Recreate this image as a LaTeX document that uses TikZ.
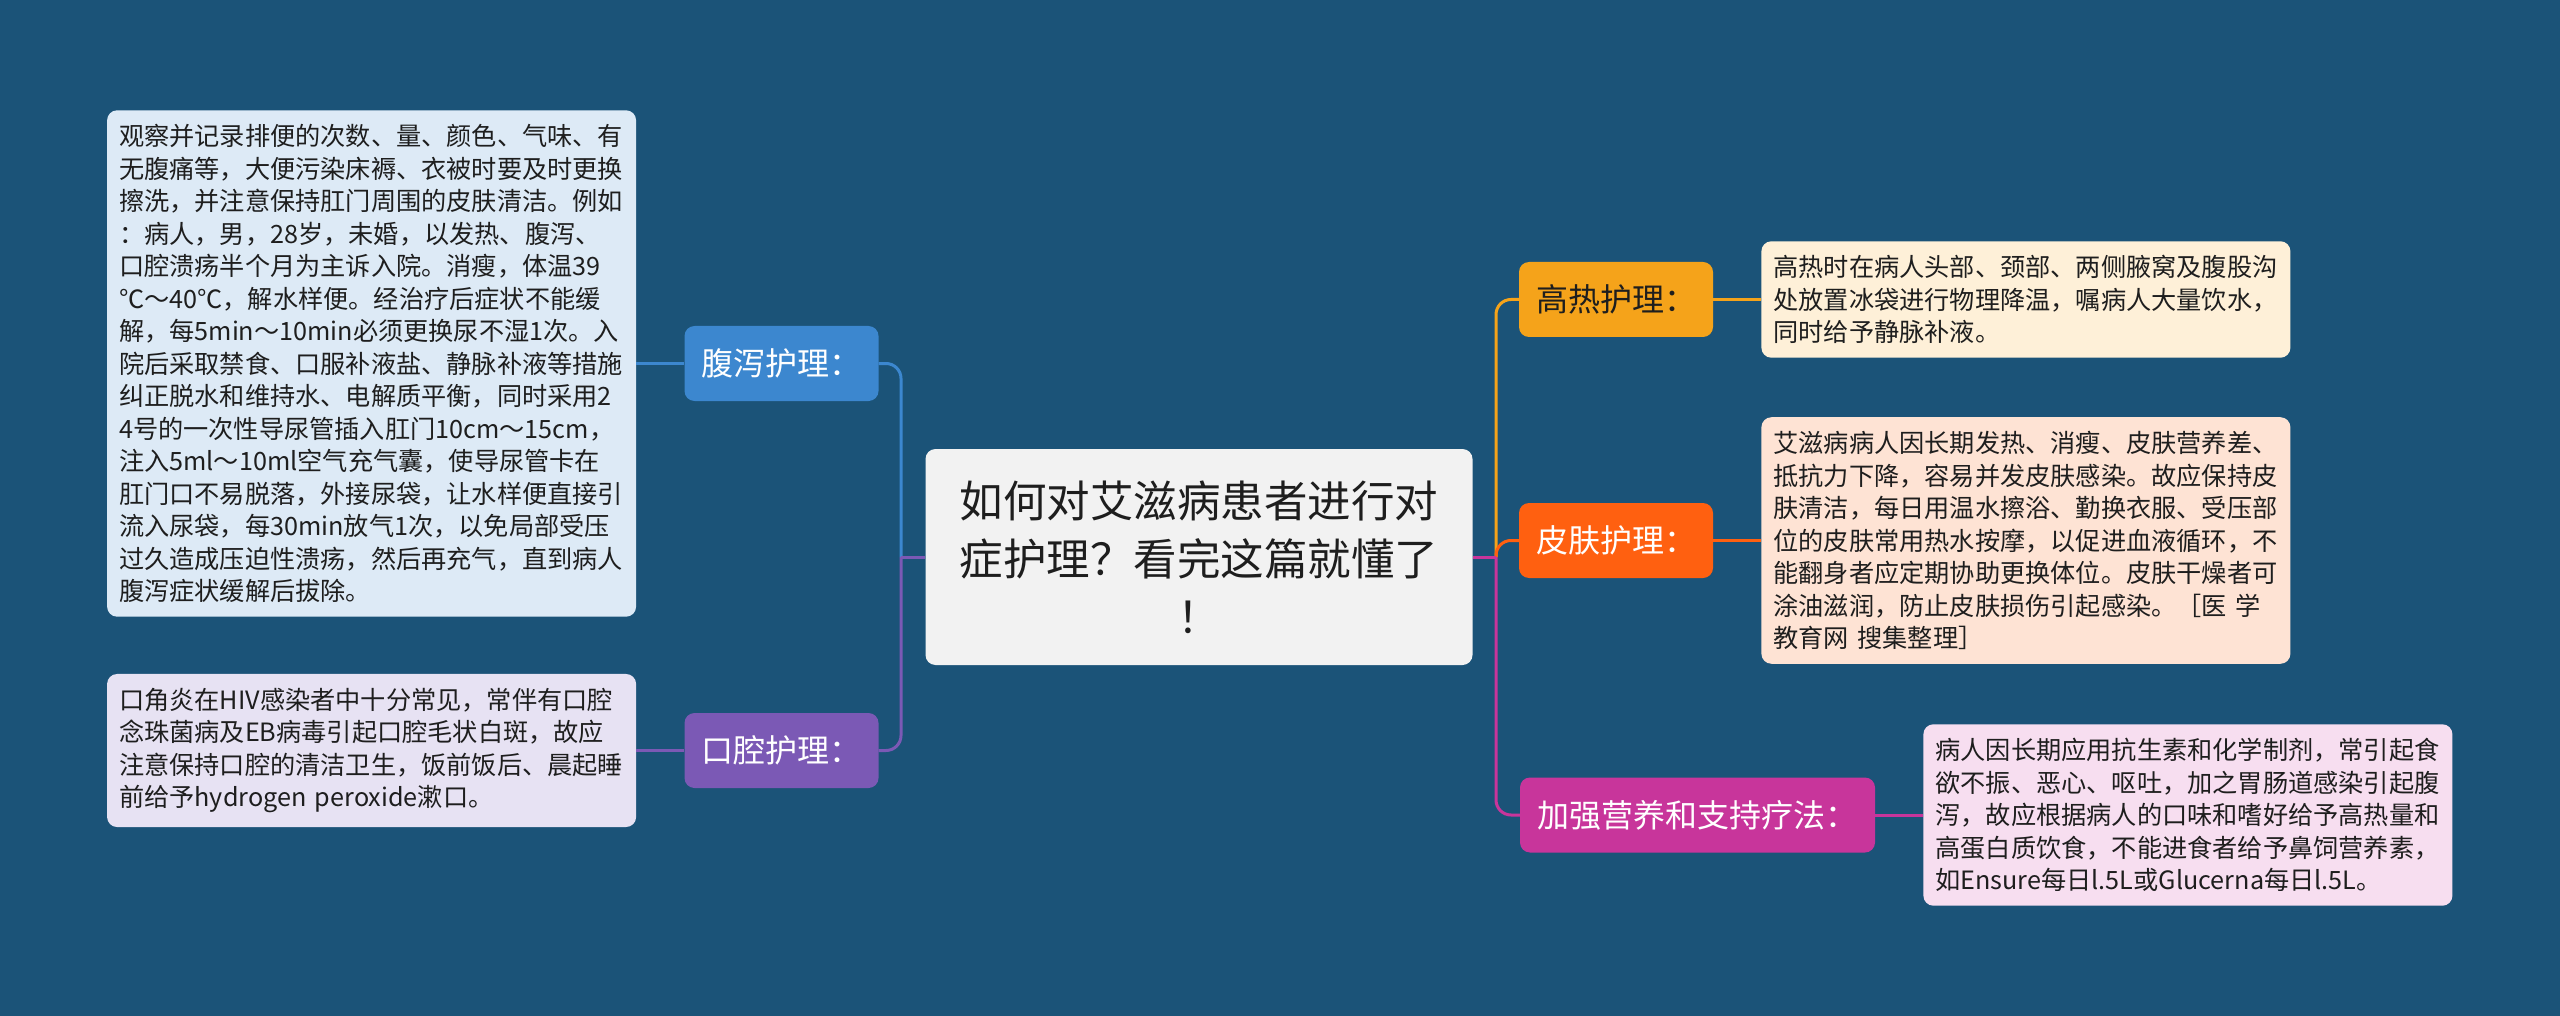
\documentclass[tikz,border=0pt]{standalone}
\usepackage{fontspec}
\setmainfont{Noto Sans CJK SC}
\definecolor{bg}{HTML}{1B5378}
\definecolor{cfx}{HTML}{3C87CF}
\definecolor{ckq}{HTML}{7B59B5}
\definecolor{cgr}{HTML}{F5A31A}
\definecolor{cpf}{HTML}{FF6010}
\definecolor{cjq}{HTML}{C8359B}
\definecolor{tfx}{HTML}{DDEAF6}
\definecolor{tkq}{HTML}{E7E2F3}
\definecolor{tgr}{HTML}{FEF0D8}
\definecolor{tpf}{HTML}{FEE3D4}
\definecolor{tjq}{HTML}{F7DEF0}
\definecolor{ink}{HTML}{1E1E1E}
\tikzset{
  topic/.style={fill=#1, rounded corners=10pt, inner sep=0pt, minimum height=75pt,
    font=\fontsize{32}{38}\selectfont, text=white},
  note/.style={fill=#1, rounded corners=10pt, inner xsep=12pt, inner ysep=14pt,
    text width=505pt, align=left, font=\fontsize{25.2}{32.5}\selectfont, text=ink},
  link/.style={draw=#1, line width=3pt, rounded corners=15pt},
}
\begin{document}
\begin{tikzpicture}[x=1pt,y=-1pt]
\fill[bg] (0,0) rectangle (2560,1016);
\useasboundingbox (0,0) rectangle (2560,1016);

\node[fill=black!5, rounded corners=10pt, minimum width=547pt, minimum height=216pt,
  align=center, text=ink, font=\fontsize{43.5}{58}\selectfont] (root) at (1199,557)
  {如何对艾滋病患者进行对\\症护理？看完这篇就懂了\\！};

\node[topic=cfx, minimum width=194pt] (fx) at (781.5,363.5) {腹泻护理：};
\node[topic=ckq, minimum width=194pt] (kq) at (781.5,750.5) {口腔护理：};
\node[topic=cgr, minimum width=194pt, text=ink] (gr) at (1616,299.5) {高热护理：};
\node[topic=cpf, minimum width=194pt] (pf) at (1616,540.5) {皮肤护理：};
\node[topic=cjq, minimum width=355pt] (jq) at (1697.5,815) {加强营养和支持疗法：};

\node[note=tfx, anchor=east] (nfx) at ([xshift=-48pt]fx.west) {观察并记录排便的次数、量、颜色、气味、有\\
无腹痛等，大便污染床褥、衣被时要及时更换\\
擦洗，并注意保持肛门周围的皮肤清洁。例如\\
：病人，男，28岁，未婚，以发热、腹泻、\\
口腔溃疡半个月为主诉入院。消瘦，体温39\\
℃～40℃，解水样便。经治疗后症状不能缓\\
解，每5min～10min必须更换尿不湿1次。入\\
院后采取禁食、口服补液盐、静脉补液等措施\\
纠正脱水和维持水、电解质平衡，同时采用2\\
4号的一次性导尿管插入肛门10cm～15cm，\\
注入5ml～10ml空气充气囊，使导尿管卡在\\
肛门口不易脱落，外接尿袋，让水样便直接引\\
流入尿袋，每30min放气1次，以免局部受压\\
过久造成压迫性溃疡，然后再充气，直到病人\\
腹泻症状缓解后拔除。};

\node[note=tkq, anchor=east] (nkq) at ([xshift=-48pt]kq.west) {口角炎在HIV感染者中十分常见，常伴有口腔\\
念珠菌病及EB病毒引起口腔毛状白斑，故应\\
注意保持口腔的清洁卫生，饭前饭后、晨起睡\\
前给予hydrogen peroxide漱口。};

\node[note=tgr, anchor=west] (ngr) at ([xshift=48pt]gr.east) {高热时在病人头部、颈部、两侧腋窝及腹股沟\\
处放置冰袋进行物理降温，嘱病人大量饮水，\\
同时给予静脉补液。};

\node[note=tpf, anchor=west] (npf) at ([xshift=48pt]pf.east) {艾滋病病人因长期发热、消瘦、皮肤营养差、\\
抵抗力下降，容易并发皮肤感染。故应保持皮\\
肤清洁，每日用温水擦浴、勤换衣服、受压部\\
位的皮肤常用热水按摩，以促进血液循环，不\\
能翻身者应定期协助更换体位。皮肤干燥者可\\
涂油滋润，防止皮肤损伤引起感染。［医 学\\
教育网 搜集整理］};

\node[note=tjq, anchor=west] (njq) at ([xshift=48pt]jq.east) {病人因长期应用抗生素和化学制剂，常引起食\\
欲不振、恶心、呕吐，加之胃肠道感染引起腹\\
泻，故应根据病人的口味和嗜好给予高热量和\\
高蛋白质饮食，不能进食者给予鼻饲营养素，\\
如Ensure每日l.5L或Glucerna每日l.5L。};

\coordinate (lt) at (901,557);
\coordinate (rt) at (1496,557);

\draw[link=cfx] (lt) |- (fx.east);
\draw[link=ckq] (lt) |- (kq.east);
\draw[link=ckq] (root.west) -- (lt);
\draw[link=cgr] (rt) |- (gr.west);
\draw[link=cpf] (rt) |- (pf.west);
\draw[link=cjq] (rt) |- (jq.west);
\draw[link=cjq] (root.east) -- (rt);

\draw[link=cfx] (fx.west) -- (nfx.east);
\draw[link=ckq] (kq.west) -- (nkq.east);
\draw[link=cgr] (gr.east) -- (ngr.west);
\draw[link=cpf] (pf.east) -- (npf.west);
\draw[link=cjq] (jq.east) -- (njq.west);
\end{tikzpicture}
\end{document}
